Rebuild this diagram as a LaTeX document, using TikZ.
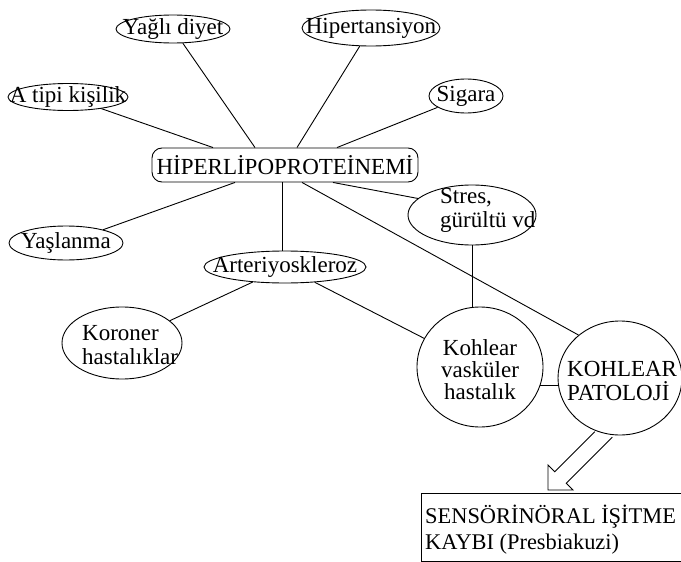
\documentclass[tikz,border=0pt]{standalone}
\usepackage{fontspec}
\setmainfont{Liberation Serif}
\usetikzlibrary{shapes.geometric}
\begin{document}
\begin{tikzpicture}[x=1pt,y=-1pt,
  ell/.style={draw, ellipse, inner sep=0pt, line width=0.9pt},
  txt/.style={inner sep=0pt, font=\fontsize{23}{24}\selectfont},
  con/.style={line width=0.9pt}]
\path[fill=white] (0,0) rectangle (681,562);
\clip (0,0) rectangle (681,562);
% shapes
\node[ell, minimum width=114, minimum height=28] (yagli) at (173,29) {};
\node[ell, minimum width=138, minimum height=36] (hipert) at (371,28) {};
\node[ell, minimum width=120, minimum height=27] (atipi) at (68,97) {};
\node[ell, minimum width=74, minimum height=34] (sigara) at (466,96) {};
\node[draw, rounded corners=10pt, minimum width=266, minimum height=34, inner sep=0pt, line width=0.9pt, txt] (hiper) at (285,165) {HİPERLİPOPROTEİNEMİ};
\node[ell, minimum width=128, minimum height=60] (stres) at (472,215) {};
\node[ell, minimum width=114, minimum height=34] (yaslan) at (66,243) {};
\node[ell, minimum width=162, minimum height=32] (arter) at (285,267) {};
\node[ell, minimum width=120, minimum height=72] (koroner) at (122,343) {};
\node[ell, minimum width=126, minimum height=120] (vask) at (480,367) {};
\node[ell, minimum width=124, minimum height=114] (pat) at (620,378) {};
\node[draw, line width=0.9pt, minimum width=279, minimum height=68, inner sep=0pt, anchor=north west] (box) at (421,493) {};
% texts
\node[txt] (yaglit) at (yagli.center) {Yağlı diyet};
\node[txt] (hipertt) at (hipert.center) {Hipertansiyon};
\node[txt] (atipit) at (atipi.center) {A tipi kişilik};
\node[txt] (sigarat) at (sigara.center) {Sigara};
\node[txt, align=left, anchor=west] (strest) at (440,210.5) {Stres,\\gürültü vd};
\node[txt] (yaslant) at (yaslan.center) {Yaşlanma};
\node[txt] (artert) at (arter.center) {Arteriyoskleroz};
\node[txt, align=left, anchor=west] (koronert) at (82,345.5) {Koroner\\hastalıklar};
\node[txt, align=center, font=\fontsize{23}{22}\selectfont] (vaskt) at (480,369.5) {Kohlear\\vasküler\\hastalık};
\node[txt, align=left, anchor=west] (patt) at (567,380.5) {KOHLEAR\\PATOLOJİ};
\node[txt, align=left, anchor=west, font=\fontsize{22.4}{26}\selectfont] (boxt) at (425,529.5) {SENSÖRİNÖRAL İŞİTME\\KAYBI (Presbiakuzi)};
% connectors
\draw[con] (yagli) -- ([xshift=-30]hiper.north);
\draw[con] (hipert) -- ([xshift=12]hiper.north);
\draw[con] (atipi) -- ([xshift=-72]hiper.north);
\draw[con] (sigara) -- ([xshift=52]hiper.north);
\draw[con] ([xshift=-50]hiper.south) -- (yaslan);
\draw[con] ([xshift=-3]hiper.south) -- ([xshift=-3]hiper.south |- arter.north);
\draw[con] ([xshift=17]hiper.south) -- (pat.134);
\draw[con] ([xshift=48]hiper.south) -- (stres.163);
\draw[con] (stres.south) -- (stres.south |- vask.north);
\draw[con] (arter) -- (koroner);
\draw[con] (arter) -- (vask);
\draw[con] (vask.-17) -- (vask.-17 -| pat.west);
% hollow block arrow
\draw[con, line join=miter] (594.8,431.8) -- (554.8,471.8) -- (548,465) -- (548,490) -- (573,490) -- (566.2,483.2) -- (612.2,437.2);
\end{tikzpicture}
\end{document}
